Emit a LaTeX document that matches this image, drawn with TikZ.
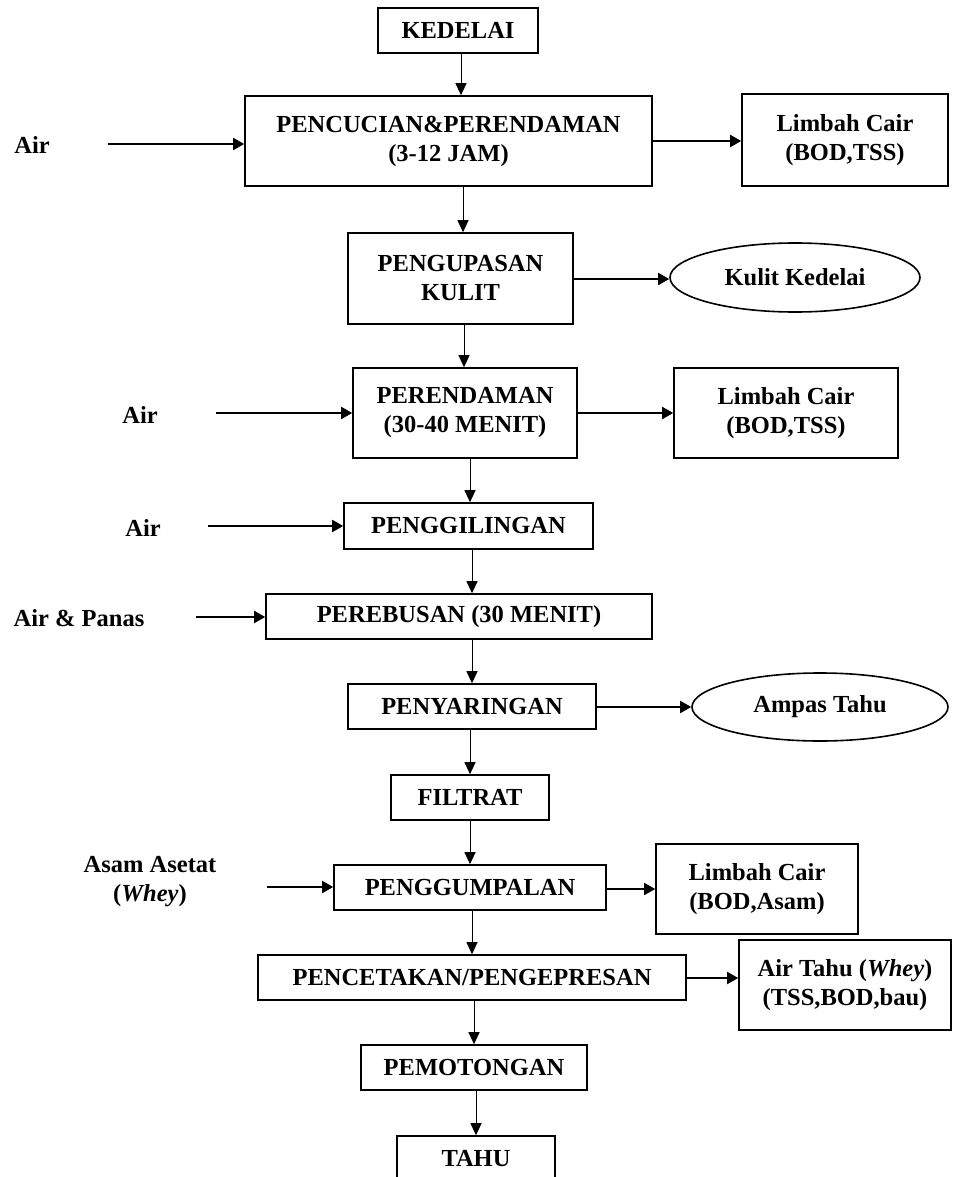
\documentclass[tikz,border=0pt]{standalone}
\usepackage{fontspec}
\setmainfont{Liberation Serif}
\usetikzlibrary{arrows.meta,shapes.geometric}
\begin{document}
\begin{tikzpicture}[x=1pt,y=-1pt,
  every node/.style={font=\fontsize{24.5}{29}\selectfont\bfseries, align=center, inner sep=0pt},
  box/.style={draw, line width=1.6pt},
  oval/.style={draw, ellipse, line width=1.6pt},
  lbl/.style={},
  varr/.style={line width=1pt, -{Triangle[length=12pt,width=11pt]}},
  harr/.style={line width=1.8pt, -{Triangle[length=11pt,width=12pt]}}]
\useasboundingbox (0,0) rectangle (953,1177);
\clip (0,0) rectangle (953,1177);
% process boxes
\node[box, minimum width=160pt, minimum height=45pt] (kedelai) at (458,30.5) {KEDELAI};
\node[box, minimum width=407pt, minimum height=90pt] (pencucian) at (448.5,141) {PENCUCIAN\&PERENDAMAN\\(3-12 JAM)};
\node[box, minimum width=206pt, minimum height=92pt] (limbah1) at (845,140) {Limbah Cair\\(BOD,TSS)};
\node[box, minimum width=225pt, minimum height=91pt] (pengupasan) at (460.5,278.5) {PENGUPASAN\\KULIT};
\node[oval, minimum width=250pt, minimum height=69pt] (kulit) at (795,277.5) {Kulit Kedelai};
\node[box, minimum width=224pt, minimum height=90pt] (perendaman) at (465,413) {PERENDAMAN\\(30-40 MENIT)};
\node[box, minimum width=224pt, minimum height=90pt] (limbah2) at (786,413) {Limbah Cair\\(BOD,TSS)};
\node[box, minimum width=249pt, minimum height=46pt] (penggilingan) at (468.5,526) {PENGGILINGAN};
\node[box, minimum width=386pt, minimum height=45pt] (perebusan) at (459,616.5) {PEREBUSAN (30 MENIT)};
\node[box, minimum width=248pt, minimum height=45pt] (penyaringan) at (472,706.5) {PENYARINGAN};
\node[oval, minimum width=256pt, minimum height=68pt] (ampas) at (820,707) {Ampas Tahu};
\node[box, minimum width=158pt, minimum height=45pt] (filtrat) at (470,797.5) {FILTRAT};
\node[box, minimum width=272pt, minimum height=45pt] (penggumpalan) at (470,887.5) {PENGGUMPALAN};
\node[box, minimum width=202pt, minimum height=90pt] (limbah3) at (757,889) {Limbah Cair\\(BOD,Asam)};
\node[box, minimum width=428pt, minimum height=45pt] (pencetakan) at (472,977.5) {PENCETAKAN/PENGEPRESAN};
\node[box, minimum width=212pt, minimum height=90pt] (airtahu) at (845,985) {Air Tahu (\textit{Whey})\\(TSS,BOD,bau)};
\node[box, minimum width=226pt, minimum height=45pt] (pemotongan) at (474,1067.5) {PEMOTONGAN};
\node[box, minimum width=158pt, minimum height=45pt] (tahu) at (476,1158.5) {TAHU};
% input labels
\node[lbl] (air1) at (32,145) {Air};
\node[lbl] (air2) at (140,415) {Air};
\node[lbl] (air3) at (143,528) {Air};
\node[lbl] (airpanas) at (79,618) {Air \& Panas};
\node[lbl] (asam) at (150,882) {Asam Asetat\\(\textit{Whey})};
% free arrow starts
\coordinate (s1) at (108,144);
\coordinate (s2) at (216,413);
\coordinate (s3) at (208,526);
\coordinate (s4) at (196,617);
\coordinate (s5) at (267,887);
% vertical flow
\draw[varr] (kedelai.south -| 461,0) -- (pencucian.north -| 461,0);
\draw[varr] (pencucian.south -| 463,0) -- (pengupasan.north -| 463,0);
\draw[varr] (pengupasan.south -| 464,0) -- (perendaman.north -| 464,0);
\draw[varr] (perendaman.south -| 470,0) -- (penggilingan.north -| 470,0);
\draw[varr] (penggilingan.south -| 472,0) -- (perebusan.north -| 472,0);
\draw[varr] (perebusan.south -| 472,0) -- (penyaringan.north -| 472,0);
\draw[varr] (penyaringan.south -| 470,0) -- (filtrat.north -| 470,0);
\draw[varr] (filtrat.south -| 470,0) -- (penggumpalan.north -| 470,0);
\draw[varr] (penggumpalan.south -| 472,0) -- (pencetakan.north -| 472,0);
\draw[varr] (pencetakan.south -| 474,0) -- (pemotongan.north -| 474,0);
\draw[varr] (pemotongan.south -| 476,0) -- (tahu.north -| 476,0);
% inputs
\draw[harr] (s1) -- (s1 -| pencucian.west);
\draw[harr] (s2) -- (s2 -| perendaman.west);
\draw[harr] (s3) -- (s3 -| penggilingan.west);
\draw[harr] (s4) -- (s4 -| perebusan.west);
\draw[harr] (s5) -- (s5 -| penggumpalan.west);
% outputs
\draw[harr] (pencucian.east |- 0,141) -- (limbah1.west |- 0,141);
\draw[harr] (pengupasan.east |- 0,279) -- (kulit.west |- 0,279);
\draw[harr] (perendaman.east |- 0,413) -- (limbah2.west |- 0,413);
\draw[harr] (penyaringan.east |- 0,707) -- (ampas.west |- 0,707);
\draw[harr] (penggumpalan.east |- 0,889) -- (limbah3.west |- 0,889);
\draw[harr] (pencetakan.east |- 0,978) -- (airtahu.west |- 0,978);
\end{tikzpicture}
\end{document}
